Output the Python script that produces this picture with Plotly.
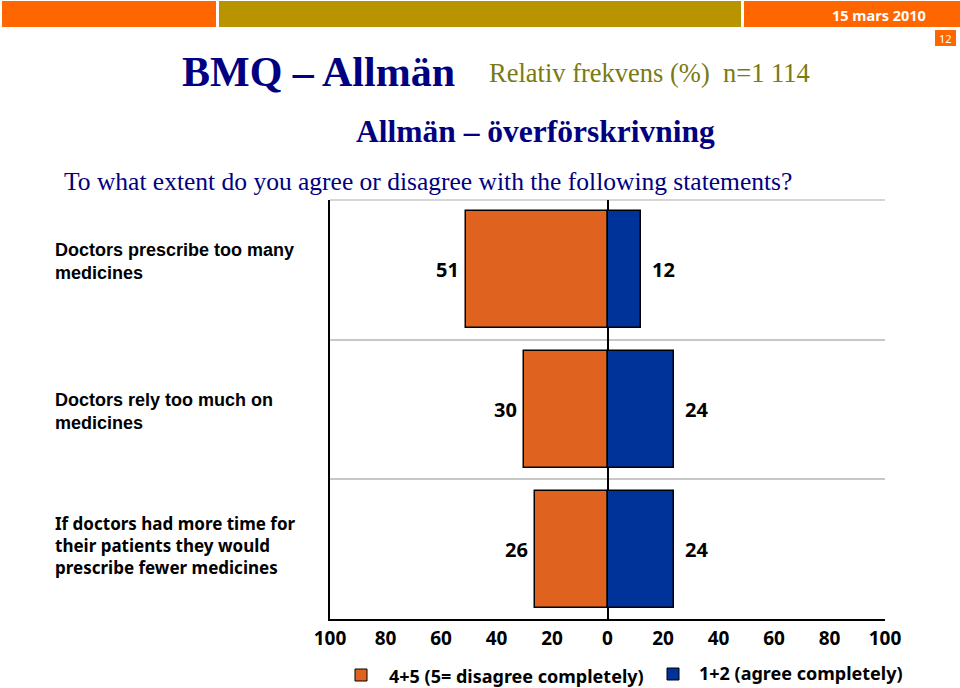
import plotly.graph_objects as go

# ---- data ----
categories = [
    "Doctors prescribe too many<br>medicines",
    "Doctors rely too much on<br>medicines",
    "If doctors had more time for<br>their patients they would<br>prescribe fewer medicines",
]
disagree = [51, 30, 26]   # 4+5 (5= disagree completely)
agree = [12, 24, 24]      # 1+2 (agree completely)
tick_values = [-100, -80, -60, -40, -20, 0, 20, 40, 60, 80, 100]
tick_labels = ["100", "80", "60", "40", "20", "0", "20", "40", "60", "80", "100"]
series_names = ["4+5 (5= disagree completely)", "1+2 (agree completely)"]

# ---- styling ----
W, H = 960, 688
L, R, T, B = 330, 75, 200, 69
PW, PH = W - L - R, H - T - B
ORANGE = "#E0621F"
BLUE = "#003399"
NAVY = "#000080"
OLIVE = "#7A7A10"
GRID = "#C8C8C8"
BOLD_FONT = "Noto Sans"


def xp(px):
    return (px - L) / PW


def yp(py):
    return (H - B - py) / PH


pos = list(range(len(categories)))

fig = go.Figure()
fig.add_trace(go.Bar(
    y=pos, x=[-v for v in disagree], orientation="h", width=0.84,
    marker=dict(color=ORANGE, line=dict(color="black", width=1.5)),
    name=series_names[0], hoverinfo="skip",
))
fig.add_trace(go.Bar(
    y=pos, x=agree, orientation="h", width=0.84,
    marker=dict(color=BLUE, line=dict(color="black", width=1.5)),
    name=series_names[1], hoverinfo="skip",
))

annotations = []
# value labels
for p, v in zip(pos, disagree):
    annotations.append(dict(x=-v, y=p, xref="x", yref="y", text=str(v), showarrow=False,
                            xanchor="right", yanchor="middle", xshift=-5,
                            font=dict(family=BOLD_FONT, size=20, color="black", weight="bold")))
for p, v in zip(pos, agree):
    annotations.append(dict(x=v, y=p, xref="x", yref="y", text=str(v), showarrow=False,
                            xanchor="left", yanchor="middle", xshift=9,
                            font=dict(family=BOLD_FONT, size=20, color="black", weight="bold")))

# category labels
cat_fonts = [
    dict(family="Liberation Sans, Arial", size=18, color="black", weight="bold"),
    dict(family="Liberation Sans, Arial", size=18, color="black", weight="bold"),
    dict(family=BOLD_FONT, size=17, color="black", weight="bold"),
]
cat_shift = [8, -2, 4]
for p, c, f, s in zip(pos, categories, cat_fonts, cat_shift):
    annotations.append(dict(x=xp(53), y=p, xref="paper", yref="y", text=c, showarrow=False,
                            xanchor="left", yanchor="middle", align="left", yshift=s, font=f))

# titles
annotations += [
    dict(x=xp(180), y=yp(72), xref="paper", yref="paper", text="<b>BMQ – Allmän</b>",
         showarrow=False, xanchor="left", yanchor="middle",
         font=dict(family="Liberation Serif, Times New Roman", size=42, color=NAVY)),
    dict(x=xp(487), y=yp(73), xref="paper", yref="paper", text="Relativ frekvens (%)\u00a0 n=1 114",
         showarrow=False, xanchor="left", yanchor="middle",
         font=dict(family="Liberation Serif, Times New Roman", size=26.5, color=OLIVE)),
    dict(x=xp(535), y=yp(131), xref="paper", yref="paper", text="<b>Allmän – överförskrivning</b>",
         showarrow=False, xanchor="center", yanchor="middle",
         font=dict(family="Liberation Serif, Times New Roman", size=31.5, color=NAVY)),
    dict(x=xp(62), y=yp(181), xref="paper", yref="paper",
         text="To what extent do you agree or disagree with the following statements?",
         showarrow=False, xanchor="left", yanchor="middle",
         font=dict(family="Liberation Serif, Times New Roman", size=25.5, color=NAVY)),
    dict(x=xp(928), y=yp(15), xref="paper", yref="paper", text="15 mars 2010",
         showarrow=False, xanchor="right", yanchor="middle",
         font=dict(family=BOLD_FONT, size=14.5, color="white", weight="bold")),
    dict(x=xp(945.5), y=yp(38), xref="paper", yref="paper", text="12",
         showarrow=False, xanchor="center", yanchor="middle",
         font=dict(family=BOLD_FONT, size=11, color="white")),
    # legend texts
    dict(x=xp(387), y=yp(676), xref="paper", yref="paper", text=series_names[0],
         showarrow=False, xanchor="left", yanchor="middle",
         font=dict(family=BOLD_FONT, size=18, color="black", weight="bold")),
    dict(x=xp(697), y=yp(673), xref="paper", yref="paper", text=series_names[1],
         showarrow=False, xanchor="left", yanchor="middle",
         font=dict(family=BOLD_FONT, size=18, color="black", weight="bold")),
]

shapes = [
    # header bar
    dict(type="rect", xref="paper", yref="paper", x0=xp(2), x1=xp(216), y0=yp(1), y1=yp(27),
         fillcolor="#FF6600", line=dict(width=0), layer="below"),
    dict(type="rect", xref="paper", yref="paper", x0=xp(219), x1=xp(741), y0=yp(1), y1=yp(27),
         fillcolor="#B89400", line=dict(width=0), layer="below"),
    dict(type="rect", xref="paper", yref="paper", x0=xp(744), x1=xp(960), y0=yp(1), y1=yp(27),
         fillcolor="#FF6600", line=dict(width=0), layer="below"),
    # page number box
    dict(type="rect", xref="paper", yref="paper", x0=xp(935), x1=xp(956), y0=yp(30), y1=yp(46),
         fillcolor="#FF6600", line=dict(width=0), layer="below"),
    # top border gridline of plot area
    dict(type="line", xref="x domain", yref="y domain", x0=0, x1=1, y0=1, y1=1,
         line=dict(color=GRID, width=1.5), layer="below"),
    # legend swatches
    dict(type="rect", xref="paper", yref="paper", x0=xp(355), x1=xp(367), y0=yp(669), y1=yp(681),
         fillcolor=ORANGE, line=dict(color="black", width=1)),
    dict(type="rect", xref="paper", yref="paper", x0=xp(667), x1=xp(679), y0=yp(668), y1=yp(680),
         fillcolor=BLUE, line=dict(color="black", width=1)),
]

fig.update_layout(
    width=W, height=H, autosize=False,
    margin=dict(l=L, r=R, t=T, b=B, pad=0),
    paper_bgcolor="white", plot_bgcolor="white",
    barmode="relative", bargap=0, showlegend=False,
    annotations=annotations, shapes=shapes,
    xaxis=dict(range=[-100, 100], tickmode="array", tickvals=tick_values, ticktext=tick_labels,
               showgrid=False, zeroline=True, zerolinecolor="black", zerolinewidth=1.5,
               showline=True, linecolor="black", linewidth=1.5, ticks="",
               ticklabelstandoff=1,
               tickfont=dict(family=BOLD_FONT, size=19, color="black", weight="bold"),
               fixedrange=True),
    yaxis=dict(range=[2.5, -0.5], tickmode="array", tickvals=[-0.5, 0.5, 1.5],
               showticklabels=False, showgrid=True, gridcolor=GRID, gridwidth=1.5,
               zeroline=False, showline=True, linecolor="black", linewidth=1.5, ticks="",
               fixedrange=True),
)

fig.write_html(
    "out.html",
    config={"displayModeBar": False},
    post_script="document.body.style.margin='0';document.body.style.overflow='hidden';",
)
